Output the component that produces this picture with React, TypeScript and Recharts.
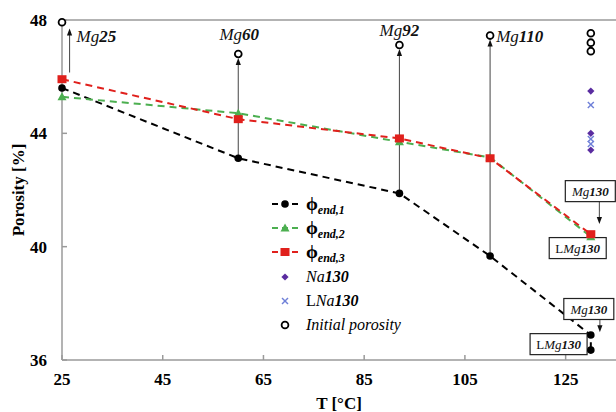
import {
  ComposedChart, Line, Scatter, XAxis, YAxis, ReferenceLine, ReferenceDot, Legend,
} from "recharts";

// values
const T_END_1 = [25, 60, 92, 110, 130, 130];
const PHI_END_1 = [45.6, 43.12, 41.88, 39.67, 36.88, 36.35];
const T_END_23 = [25, 60, 92, 110, 130];
const PHI_END_2 = [45.29, 44.71, 43.7, 43.15, 40.35];
const PHI_END_3 = [45.91, 44.5, 43.82, 43.12, 40.44];
const T_INITIAL = [25, 60, 92, 110, 130, 130, 130];
const INITIAL_POROSITY = [47.92, 46.8, 47.12, 47.45, 47.53, 47.2, 46.9];
const T_NA = [130, 130, 130];
const NA130 = [45.49, 44.0, 43.41];
const LNA130 = [45.0, 43.8, 43.62];

const X_TICKS = [25, 45, 65, 85, 105, 125];
const Y_TICKS = [36, 40, 44, 48];

// arrows from final to initial porosity, and from the 130 boxes
const ARROW_T = [26.5, 60, 92, 110, 131.7, 131.8];
const ARROW_FROM = [46.15, 43.12, 41.88, 39.67, 41.9, 37.42];
const ARROW_TO = [47.7, 46.66, 46.98, 47.31, 40.8, 36.98];

const LABELS = ["Mg25", "Mg60", "Mg92", "Mg110"];
const LABEL_T = [27.9, 60.2, 92, 111.2];
const LABEL_P = [47.42, 47.5, 47.64, 47.45];
const LABEL_ANCHOR = ["start", "middle", "middle", "start"];

const BOXES = ["Mg130", "LMg130", "Mg130", "LMg130"];
const BOX_T = [129.9, 127.4, 129.6, 123.6];
const BOX_P = [41.96, 39.95, 37.8, 36.56];

const FONT = "'Liberation Serif', 'Times New Roman', serif";
const GREEN = "#4caf50";
const RED = "#e0201c";
const PURPLE = "#5a2ca0";
const BLUE = "#6f80d8";
const AXIS = "#9a9a9a";

const pts = (xs: number[], ys: number[]) => xs.map((T, i) => ({ T, p: ys[i] }));

const phi1 = pts(T_END_1, PHI_END_1);
const phi2 = pts(T_END_23, PHI_END_2);
const phi3 = pts(T_END_23, PHI_END_3);
const initial = pts(T_INITIAL, INITIAL_POROSITY);
const na = pts(T_NA, NA130);
const lna = pts(T_NA, LNA130);

function richText(s: string) {
  const m = s.match(/^(L?)([A-Za-z]+)(\d+)$/);
  if (!m) return s;
  return [
    m[1] ? <tspan key="l">{m[1]}</tspan> : null,
    <tspan key="a" fontStyle="italic">{m[2]}</tspan>,
    <tspan key="n" fontStyle="italic" fontWeight="bold">{m[3]}</tspan>,
  ];
}

function richHtml(s: string) {
  const m = s.match(/^(L?)([A-Za-z]+)(\d+)$/);
  if (!m) return s;
  return (
    <>
      {m[1]}
      <i>{m[2]}</i>
      <b><i>{m[3]}</i></b>
    </>
  );
}

const dotBlack = (p: any) => <circle key={p.index} cx={p.cx} cy={p.cy} r={3.8} fill="#000" />;
const dotGreen = (p: any) => (
  <polygon key={p.index} fill={GREEN}
    points={`${p.cx},${p.cy - 4.5} ${p.cx - 4.5},${p.cy + 3.5} ${p.cx + 4.5},${p.cy + 3.5}`} />
);
const dotRed = (p: any) => <rect key={p.index} x={p.cx - 4.5} y={p.cy - 4} width={9} height={8} fill={RED} />;
const openCircle = (p: any) => (
  <circle cx={p.cx} cy={p.cy} r={3.4} fill="#fff" stroke="#000" strokeWidth={1.8} />
);
const diamond = (p: any) => (
  <polygon fill={PURPLE}
    points={`${p.cx},${p.cy - 3.6} ${p.cx + 3.6},${p.cy} ${p.cx},${p.cy + 3.6} ${p.cx - 3.6},${p.cy}`} />
);
const cross = (p: any) => (
  <g stroke={BLUE} strokeWidth={1.4}>
    <line x1={p.cx - 3} y1={p.cy - 3} x2={p.cx + 3} y2={p.cy + 3} />
    <line x1={p.cx - 3} y1={p.cy + 3} x2={p.cx + 3} y2={p.cy - 3} />
  </g>
);

const arrow = (p: any) => {
  const { x1, y1, x2, y2 } = p;
  const dir = y2 < y1 ? 1 : -1;
  return (
    <g>
      <line x1={x1} y1={y1} x2={x2} y2={y2 + dir * 5} stroke="#555" strokeWidth={1.1} />
      <polygon points={`${x2},${y2} ${x2 - 2.6},${y2 + dir * 7} ${x2 + 2.6},${y2 + dir * 7}`} fill="#111" />
    </g>
  );
};

const legendRows = [
  { key: "1", kind: "line", color: "#000", dot: "circle", sub: "end,1" },
  { key: "2", kind: "line", color: GREEN, dot: "tri", sub: "end,2" },
  { key: "3", kind: "line", color: RED, dot: "square", sub: "end,3" },
  { key: "na", kind: "na" },
  { key: "lna", kind: "lna" },
  { key: "init", kind: "init" },
];

function LegendBox() {
  return (
    <div style={{ fontFamily: FONT, color: "#000", textAlign: "left" }}>
      {legendRows.map((r) => (
        <div key={r.key} style={{ height: 24.2, display: "flex", alignItems: "center" }}>
          <svg width={32} height={24} style={{ flex: "none" }}>
            {r.kind === "line" && (
              <line x1={2} y1={12} x2={28} y2={12} stroke={r.color} strokeWidth={2} strokeDasharray="6 4" />
            )}
            {r.dot === "circle" && dotBlack({ cx: 15, cy: 12 })}
            {r.dot === "tri" && dotGreen({ cx: 15, cy: 12 })}
            {r.dot === "square" && dotRed({ cx: 15, cy: 12 })}
            {r.kind === "na" && diamond({ cx: 15, cy: 12 })}
            {r.kind === "lna" && cross({ cx: 15, cy: 12 })}
            {r.kind === "init" && openCircle({ cx: 15, cy: 12 })}
          </svg>
          <span style={{ marginLeft: 4, fontSize: 16, whiteSpace: "nowrap" }}>
            {r.kind === "line" && (
              <>
                <b style={{ fontSize: 19 }}>ϕ</b>
                <b><i style={{ fontSize: 12, position: "relative", top: 4 }}>{r.sub}</i></b>
              </>
            )}
            {r.kind === "na" && richHtml("Na130")}
            {r.kind === "lna" && richHtml("LNa130")}
            {r.kind === "init" && <i>Initial porosity</i>}
          </span>
        </div>
      ))}
    </div>
  );
}

export default function App() {
  return (
    <div style={{ position: "absolute", left: 0, top: 0, width: 616, height: 412, background: "#fff" }}>
      <ComposedChart width={616} height={412} margin={{ top: 20, right: 0, left: 0, bottom: 0 }}>
        <XAxis
          type="number"
          dataKey="T"
          domain={[25, 135]}
          ticks={X_TICKS}
          height={52}
          stroke={AXIS}
          strokeWidth={1.5}
          tickSize={-5}
          tickMargin={18}
          tick={{ fontFamily: FONT, fontSize: 17, fontWeight: "bold", fill: "#000" }}
          label={{
            value: "T [°C]", position: "insideBottom", offset: 3,
            style: { fontFamily: FONT, fontSize: 17, fontWeight: "bold", fill: "#000" },
          }}
        />
        <YAxis
          type="number"
          dataKey="p"
          domain={[36, 48]}
          ticks={Y_TICKS}
          width={62}
          stroke={AXIS}
          strokeWidth={1.5}
          tickSize={-5}
          tickMargin={20}
          tick={{ fontFamily: FONT, fontSize: 17, fontWeight: "bold", fill: "#000" }}
          label={{
            value: "Porosity [%]", angle: -90, position: "insideLeft", offset: 18,
            style: { fontFamily: FONT, fontSize: 17, fontWeight: "bold", fill: "#000", textAnchor: "middle" },
          }}
        />
        <ReferenceLine y={48} stroke={AXIS} strokeWidth={1.5} />

        <Line data={phi1} dataKey="p" stroke="#000" strokeWidth={2} strokeDasharray="7 5"
          dot={dotBlack} activeDot={false} isAnimationActive={false} legendType="none" />
        <Line data={phi2} dataKey="p" stroke={GREEN} strokeWidth={2} strokeDasharray="7 5"
          dot={dotGreen} activeDot={false} isAnimationActive={false} legendType="none" />
        <Line data={phi3} dataKey="p" stroke={RED} strokeWidth={2} strokeDasharray="7 5"
          dot={dotRed} activeDot={false} isAnimationActive={false} legendType="none" />

        {ARROW_T.map((T, i) => (
          <ReferenceLine key={"a" + i} segment={[{ x: T, y: ARROW_FROM[i] }, { x: T, y: ARROW_TO[i] }]} shape={arrow} />
        ))}

        <Scatter data={initial} shape={openCircle} isAnimationActive={false} legendType="none" />
        <Scatter data={na} shape={diamond} isAnimationActive={false} legendType="none" />
        <Scatter data={lna} shape={cross} isAnimationActive={false} legendType="none" />

        {LABELS.map((s, i) => (
          <ReferenceDot key={"l" + i} x={LABEL_T[i]} y={LABEL_P[i]} r={0}
            shape={(p: any) => (
              <text x={p.cx} y={p.cy} textAnchor={LABEL_ANCHOR[i] as any} dominantBaseline="central"
                fontFamily={FONT} fontSize={17} fill="#111">
                {richText(s)}
              </text>
            )} />
        ))}

        {BOXES.map((s, i) => {
          const w = s.startsWith("L") ? 57 : 50;
          return (
            <ReferenceDot key={"b" + i} x={BOX_T[i]} y={BOX_P[i]} r={0}
              shape={(p: any) => (
                <g>
                  <rect x={p.cx - w / 2} y={p.cy - 10.5} width={w} height={21} fill="#fff" stroke="#222" strokeWidth={1.2} />
                  <text x={p.cx} y={p.cy} textAnchor="middle" dominantBaseline="central"
                    fontFamily={FONT} fontSize={13} fill="#111">
                    {richText(s)}
                  </text>
                </g>
              )} />
          );
        })}

        <Legend
          layout="horizontal"
          verticalAlign="middle"
          align="center"
          content={() => <LegendBox />}
          wrapperStyle={{ left: 270, top: 192, width: 200 }}
        />
      </ComposedChart>
    </div>
  );
}
